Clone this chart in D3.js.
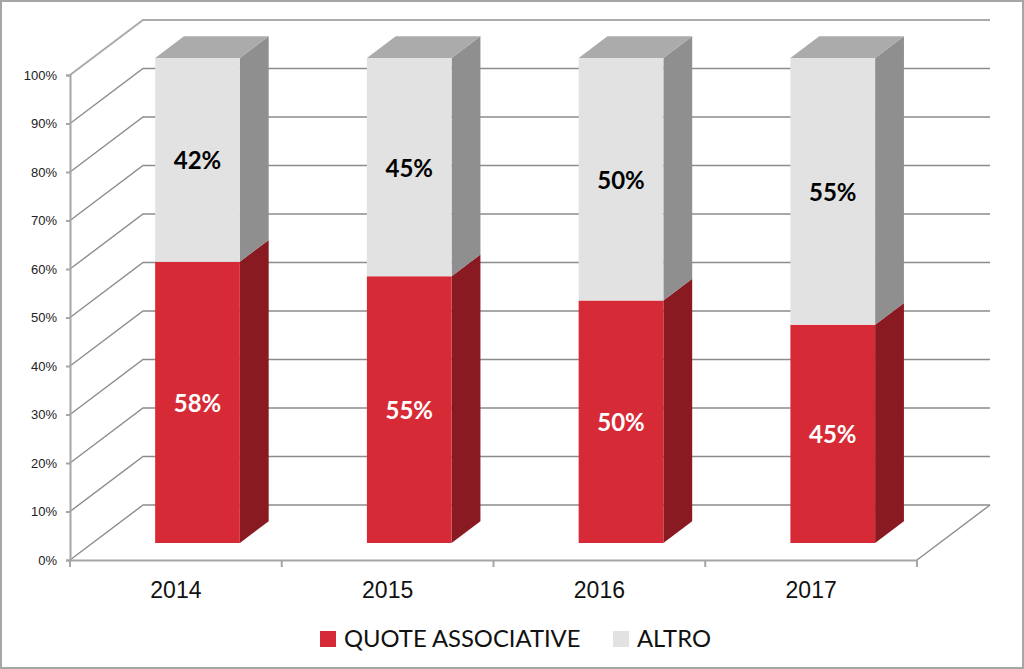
<!DOCTYPE html>
<html>
<head>
<meta charset="utf-8">
<script src="https://cdn.jsdelivr.net/npm/d3@7"></script>
<style>
  html, body { margin: 0; padding: 0; background: #fff; }
  svg { display: block; font-family: Lato, "Open Sans", sans-serif; }
</style>
</head>
<body>
<svg id="chart"></svg>
<script>
const years = ['2014', '2015', '2016', '2017'];
const quote = [58, 55, 50, 45];
const altro = [42, 45, 50, 55];
const yTicks = [0, 10, 20, 30, 40, 50, 60, 70, 80, 90, 100];
const seriesNames = ['QUOTE ASSOCIATIVE', 'ALTRO'];

const svgWidth = 1024, svgHeight = 669;
const left = 70, right = 917, bottom = 560, top100 = 75;
// floor depth: how far the back wall is shifted from the front plane
const depthX = 73, depthY = -55;
const barNear = 0.31, barFar = 0.705;
const barShift = -1;

const colors = {
  quote: { front: '#d62b36', side: '#8a1a22', top: '#a8242d' },
  altro: { front: '#e2e2e2', side: '#8f8f8f', top: '#ababab' }
};

const table = years.map((y, i) => ({ year: y, quote: quote[i], altro: altro[i] }));
const stacked = d3.stack().keys(['quote', 'altro'])(table);

const x = d3.scaleBand().domain(years).range([left, right]).paddingInner(0).paddingOuter(0);
const y = d3.scaleLinear().domain([0, 100]).range([bottom, top100]);
const barWidth = x.bandwidth() * 0.4;

// project a point (px on the front plane, value, depth 0..1) to the screen
const pt = (px, v, d) => [px + depthX * d, y(v) + depthY * d];
const poly = pts => d3.line()(pts) + 'Z';

const svg = d3.select('#chart').attr('width', svgWidth).attr('height', svgHeight);

svg.append('rect')
  .attr('x', 1).attr('y', 1)
  .attr('width', svgWidth - 2).attr('height', svgHeight - 2)
  .attr('fill', '#fff').attr('stroke', '#a6a6a6').attr('stroke-width', 2);

// grid on the side wall and back wall
const grid = svg.append('g').attr('fill', 'none').attr('stroke', '#8c8c8c').attr('stroke-width', 1.4);
grid.selectAll('path').data(yTicks).enter().append('path')
  .attr('d', d => d3.line()([pt(left, d, 0), pt(left, d, 1), pt(right, d, 1)]))
  .attr('stroke', d => d === 100 ? '#ababab' : '#8c8c8c')
  .attr('stroke-width', d => d === 100 ? 2 : 1.4);
grid.append('path').attr('d', d3.line()([pt(right, 0, 1), pt(right, 0, 0)]));

// axes
const yAxis = d3.axisLeft(y).tickValues(yTicks).tickFormat(d => d + '%').tickSize(4).tickPadding(9);
const gy = svg.append('g').attr('transform', `translate(${left},0)`).call(yAxis);
gy.selectAll('text').attr('font-size', 13).attr('fill', '#222');

const xAxis = d3.axisBottom(x).tickSize(0).tickPadding(22);
const gx = svg.append('g').attr('transform', `translate(0,${bottom})`).call(xAxis);
gx.selectAll('text').attr('font-size', 23).attr('fill', '#111');
gx.selectAll('.edge').data(d3.range(years.length + 1)).enter().append('line')
  .attr('class', 'edge')
  .attr('x1', i => left + i * x.bandwidth()).attr('x2', i => left + i * x.bandwidth())
  .attr('y1', 0).attr('y2', 7);
svg.selectAll('.domain, .tick line, .edge').attr('stroke', '#a6a6a6').attr('stroke-width', 2);

// stacked 3d bars
stacked.forEach(s => {
  const c = colors[s.key];
  const g = svg.append('g').attr('class', 'series-' + s.key);
  const x0 = d => x(d.data.year) + (x.bandwidth() - barWidth) / 2 + barShift;
  const x1 = d => x0(d) + barWidth;
  // side face
  g.selectAll('.side').data(s).enter().append('path').attr('class', 'side')
    .attr('fill', c.side)
    .attr('d', d => poly([pt(x1(d), d[0], barNear), pt(x1(d), d[0], barFar), pt(x1(d), d[1], barFar), pt(x1(d), d[1], barNear)]));
  // top face, only seen on the upper series
  if (s.key === 'altro') {
    g.selectAll('.top').data(s).enter().append('path').attr('class', 'top')
      .attr('fill', c.top)
      .attr('d', d => poly([pt(x0(d), d[1], barNear), pt(x0(d), d[1], barFar), pt(x1(d), d[1], barFar), pt(x1(d), d[1], barNear)]));
  }
  // front face
  g.selectAll('.front').data(s).enter().append('path').attr('class', 'front')
    .attr('fill', c.front)
    .attr('d', d => poly([pt(x0(d), d[0], barNear), pt(x1(d), d[0], barNear), pt(x1(d), d[1], barNear), pt(x0(d), d[1], barNear)]));
  // value labels
  g.selectAll('.val').data(s).enter().append('text').attr('class', 'val')
    .attr('x', d => pt((x0(d) + x1(d)) / 2, 0, barNear)[0])
    .attr('y', d => pt(0, (d[0] + d[1]) / 2, barNear)[1] + 9.5)
    .attr('text-anchor', 'middle')
    .attr('font-size', 24).attr('font-weight', 700)
    .attr('fill', s.key === 'quote' ? '#fff' : '#000')
    .text(d => (d[1] - d[0]) + '%');
});

// legend
const legendPos = [{ sx: 320, tx: 344 }, { sx: 613, tx: 637 }];
const legend = svg.append('g');
seriesNames.forEach((name, i) => {
  legend.append('rect').attr('x', legendPos[i].sx).attr('y', 631)
    .attr('width', 16).attr('height', 16)
    .attr('fill', i === 0 ? colors.quote.front : colors.altro.front);
  legend.append('text').attr('x', legendPos[i].tx).attr('y', 647)
    .attr('font-size', 23.8).attr('fill', '#111').text(name);
});
</script>
</body>
</html>
